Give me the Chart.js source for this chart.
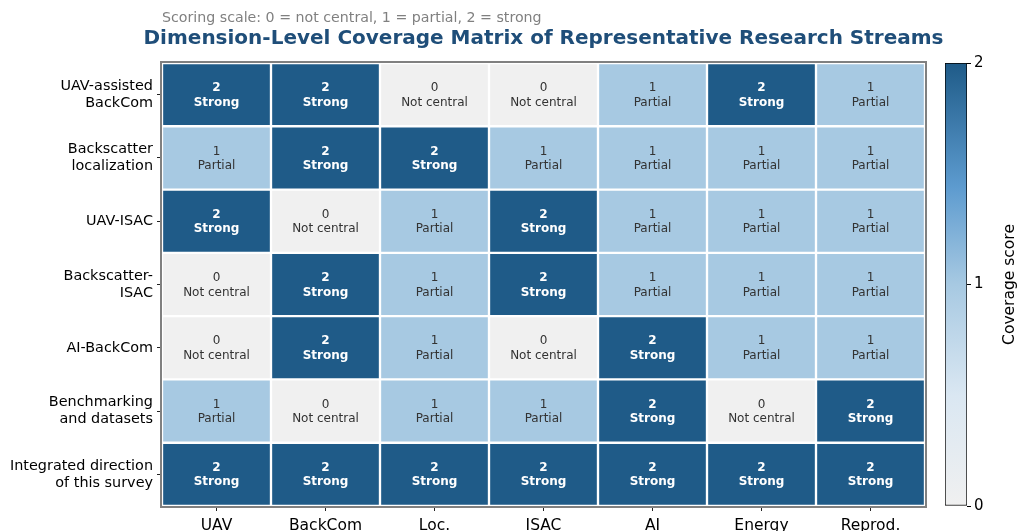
<!DOCTYPE html>
<html>
<head>
<meta charset="utf-8">
<script src="https://cdn.jsdelivr.net/npm/chart.js@4/dist/chart.umd.min.js"></script>
<style>
html,body{margin:0;padding:0;background:#fff;width:1019px;height:531px;overflow:hidden;}
#main{position:absolute;left:0;top:0;}
#cbar{position:absolute;left:900px;top:0;}
</style>
</head>
<body>
<canvas id="main" width="1019" height="560"></canvas>
<canvas id="cbar" width="119" height="560"></canvas>
<script>
// ---- data ----
const columns = ['UAV', 'BackCom', 'Loc.', 'ISAC', 'AI', 'Energy', 'Reprod.'];
const rowLabels = [
  ['UAV-assisted', 'BackCom'],
  ['Backscatter', 'localization'],
  ['UAV-ISAC'],
  ['Backscatter-', 'ISAC'],
  ['AI-BackCom'],
  ['Benchmarking', 'and datasets'],
  ['Integrated direction', 'of this survey']
];
const row0 = [2, 2, 0, 0, 1, 2, 1];
const row1 = [1, 2, 2, 1, 1, 1, 1];
const row2 = [2, 0, 1, 2, 1, 1, 1];
const row3 = [0, 2, 1, 2, 1, 1, 1];
const row4 = [0, 2, 1, 0, 2, 1, 1];
const row5 = [1, 0, 1, 1, 2, 0, 2];
const row6 = [2, 2, 2, 2, 2, 2, 2];
const scores = [row0, row1, row2, row3, row4, row5, row6];
const scoreNames = ['Not central', 'Partial', 'Strong'];
const scaleTicks = [0, 1, 2];
const titleText = 'Dimension-Level Coverage Matrix of Representative Research Streams';
const subtitleText = 'Scoring scale: 0 = not central, 1 = partial, 2 = strong';
const colorbarLabel = 'Coverage score';

// ---- styles ----
const cellColors = ['#f0f0f0', '#a7c9e2', '#1f5b88'];
const gradStops = [[0, '#f0f0f0'], [0.25, '#dae7f2'], [0.5, '#a7c9e2'], [0.72, '#5d9bcf'], [1, '#1f5b88']];
const FONT = "'DejaVu Sans', sans-serif";

Chart.defaults.font.family = FONT;
Chart.defaults.devicePixelRatio = 1;

const datasets = scores.map((vals, r) => ({
  label: rowLabels[r].join(' '),
  data: vals.map(() => [r, r + 1]),
  backgroundColor: vals.map(v => cellColors[v]),
  borderColor: '#ffffff',
  borderWidth: 1.5,
  borderSkipped: false,
  barPercentage: 1,
  categoryPercentage: 1,
  grouped: false
}));

const cellTextPlugin = {
  id: 'cellText',
  afterDatasetsDraw(chart) {
    const ctx = chart.ctx;
    ctx.save();
    ctx.textAlign = 'center';
    ctx.textBaseline = 'middle';
    scores.forEach((vals, r) => {
      const meta = chart.getDatasetMeta(r);
      meta.data.forEach((bar, c) => {
        const v = vals[c];
        const cx = bar.x;
        const cy = (bar.y + bar.base) / 2;
        if (v === 2) {
          ctx.fillStyle = '#ffffff';
          ctx.font = 'bold 12px ' + FONT;
        } else {
          ctx.fillStyle = '#333333';
          ctx.font = '12px ' + FONT;
        }
        ctx.fillText(String(v), cx, cy - 6.5);
        ctx.fillText(scoreNames[v], cx, cy + 8);
      });
    });
    ctx.restore();
  },
  afterDraw(chart) {
    const a = chart.chartArea;
    const ctx = chart.ctx;
    ctx.save();
    ctx.strokeStyle = '#808080';
    ctx.lineWidth = 2;
    ctx.strokeRect(a.left - 1, a.top - 1, a.right - a.left + 2, a.bottom - a.top + 2);
    const mid = (a.left + a.right) / 2;
    ctx.textBaseline = 'middle';
    ctx.textAlign = 'left';
    ctx.fillStyle = '#808080';
    ctx.font = '14.2px ' + FONT;
    ctx.fillText(subtitleText, a.left, 18.5);
    ctx.textAlign = 'center';
    ctx.fillStyle = '#1f4e79';
    ctx.font = 'bold 20px ' + FONT;
    ctx.fillText(titleText, mid, 39);
    ctx.restore();
  }
};

new Chart(document.getElementById('main'), {
  type: 'bar',
  data: { labels: columns, datasets },
  options: {
    responsive: false,
    animation: false,
    layout: { padding: { top: 63, right: 94, left: 0, bottom: 0 } },
    plugins: { legend: { display: false }, tooltip: { enabled: false } },
    scales: {
      x: {
        type: 'category',
        offset: true,
        grid: { offset: false, drawOnChartArea: false, drawTicks: true, tickLength: 5, color: '#222' },
        border: { display: false },
        ticks: { color: '#000', font: { size: 15.5 }, padding: 6, maxRotation: 0 },
        afterFit(s) { s.height = 54; }
      },
      y: {
        type: 'linear',
        min: 0,
        max: scores.length,
        reverse: true,
        afterBuildTicks(s) { s.ticks = rowLabels.map((_, i) => ({ value: i + 0.5 })); },
        grid: { drawOnChartArea: false, drawTicks: true, tickLength: 5, color: '#222' },
        border: { display: false },
        ticks: {
          color: '#000',
          font: { size: 14.4, lineHeight: 1.18 },
          padding: 4,
          autoSkip: false,
          callback: (v, i) => rowLabels[i]
        },
        afterFit(s) { s.width = 162; }
      }
    }
  },
  plugins: [cellTextPlugin]
});

// ---- colorbar ----
const cbarTitlePlugin = {
  id: 'cbarTitle',
  afterDraw(chart) {
    const a = chart.chartArea;
    const ctx = chart.ctx;
    ctx.save();
    ctx.translate(110, (a.top + a.bottom) / 2);
    ctx.rotate(-Math.PI / 2);
    ctx.textAlign = 'center';
    ctx.textBaseline = 'middle';
    ctx.fillStyle = '#000';
    ctx.font = '15.5px ' + FONT;
    ctx.fillText(colorbarLabel, 0, 0);
    ctx.restore();
  }
};

new Chart(document.getElementById('cbar'), {
  type: 'bar',
  data: {
    labels: [''],
    datasets: [{
      data: [[scaleTicks[0], scaleTicks[scaleTicks.length - 1]]],
      backgroundColor: (c) => {
        const a = c.chart.chartArea;
        if (!a) return '#a7c9e2';
        const g = c.chart.ctx.createLinearGradient(0, a.bottom, 0, a.top);
        gradStops.forEach(([p, col]) => g.addColorStop(p, col));
        return g;
      },
      borderColor: '#000',
      borderWidth: 1,
      borderSkipped: false,
      barPercentage: 1,
      categoryPercentage: 1
    }]
  },
  options: {
    responsive: false,
    animation: false,
    layout: { padding: { top: 63, left: 45, right: 0, bottom: 54 } },
    plugins: { legend: { display: false }, tooltip: { enabled: false } },
    scales: {
      x: { display: false },
      y: {
        position: 'right',
        min: scaleTicks[0],
        max: scaleTicks[scaleTicks.length - 1],
        afterBuildTicks(s) { s.ticks = scaleTicks.map(v => ({ value: v })); },
        grid: { drawOnChartArea: false, drawTicks: true, tickLength: 4, color: '#000' },
        border: { display: false },
        ticks: { color: '#000', font: { size: 15 }, padding: 3 },
        title: { display: false },
        afterFit(s) { s.width = 52; }
      }
    }
  },
  plugins: [cbarTitlePlugin]
});
</script>
</body>
</html>
